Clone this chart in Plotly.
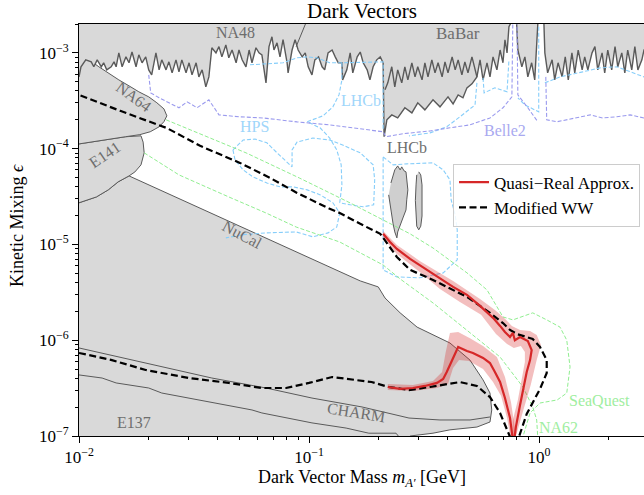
import numpy as np
import plotly.graph_objects as go

# ---------------- data (mass in GeV, kinetic mixing epsilon) ----------------
# top excluded region (NA48 / BaBar / LHCb), boundary read left to right
TOP_A_M = [0.0100,0.0102,0.0107,0.0113,0.0116,0.0120,0.0125,0.0128,0.0132,0.0138,
           0.0142,0.0145,0.0149,0.0154,0.0160,0.0165,0.0170,0.0177,0.0182,0.0188,
           0.0195,0.0201,0.0207,0.0216,0.0223,0.0229,0.0239,0.0246,0.0254,0.0264,
           0.0272,0.0280,0.0292,0.0301,0.0310,0.0323,0.0332,0.0343,0.0356,0.0367,
           0.0378,0.0394,0.0406,0.0418,0.0435,0.0448,0.0463,0.0482,0.0496,0.0512,
           0.0532,0.0549,0.0565,0.0588,0.0606,0.0624,0.0650,0.0670,0.0690,0.0704,0.0726]
TOP_A_E = [5.61e-4,7.15e-4,8.45e-4,8.05e-4,7.15e-4,8.45e-4,7.15e-4,7.87e-4,6.64e-4,7.15e-4,
           8.05e-4,7.15e-4,1.0e-3,7.15e-4,9.08e-4,7.87e-4,1.02e-3,7.15e-4,9.53e-4,7.87e-4,
           9.08e-4,6.64e-4,5.89e-4,1.0e-3,6.64e-4,8.45e-4,6.64e-4,8.05e-4,6.18e-4,8.45e-4,
           6.33e-4,8.45e-4,6.18e-4,7.87e-4,5.89e-4,7.87e-4,5.61e-4,6.64e-4,4.41e-4,5.61e-4,
           1.13e-3,1.0e-3,1.16e-3,9.08e-4,1.21e-3,8.87e-4,1.07e-3,7.87e-4,1.07e-3,8.45e-4,
           7.15e-4,1.07e-3,7.87e-4,1.13e-3,1.0e-3,9.53e-4,4.86e-4,1.16e-3,1.47e-3,1.07e-3,1.27e-3]
TOP_B_M = [0.0748,0.0771,0.0803,0.0811,0.0844,0.0870,0.0897,0.0934,0.0963,0.0992,
           0.103,0.106,0.110,0.114,0.117,0.121,0.126,0.130,0.134,0.139,
           0.140,0.146,0.151,0.155,0.162,0.167,0.172,0.179,0.184,0.190,
           0.197,0.204,0.210,0.212]
TOP_B_E = [9.08e-4,1.37e-3,7.87e-4,6.18e-4,1.07e-3,1.37e-3,1.07e-3,9.08e-4,1.0e-3,7.15e-4,
           5.89e-4,8.45e-4,9.08e-4,7.15e-4,6.64e-4,1.0e-3,1.07e-3,9.08e-4,7.87e-4,7.87e-4,
           5.22e-4,6.64e-4,1.0e-3,6.18e-4,9.08e-4,1.02e-3,7.87e-4,6.64e-4,5.22e-4,7.15e-4,
           8.45e-4,9.08e-4,7.87e-4,1.33e-4]
TOP_C_M = [0.218,0.229,0.243,0.261,0.280,0.297,0.319,0.346,0.371,0.402,0.423,0.445,0.467,0.486,0.511,0.537]
TOP_C_E = [2.0e-4,2.25e-4,2.09e-4,2.67e-4,2.36e-4,3.01e-4,2.54e-4,3.23e-4,2.73e-4,3.47e-4,
           2.93e-4,3.64e-4,3.39e-4,4.31e-4,4.75e-4,5.61e-4]
TOP_D_M = [0.554,0.571,0.594,0.612,0.631,0.656,0.677,0.697,0.711,0.726,
           0.740,0.755,0.762,0.793,0.801,0.809,0.842,0.868,0.894,0.929,
           0.958,0.977,0.987,0.997,1.04,1.05,1.06,1.09,1.14,1.17,
           1.21,1.26,1.30,1.34,1.39,1.43,1.48,1.54,1.58,1.63,
           1.70,1.75,1.80,1.88,1.93,1.99,2.07,2.14,2.20,2.29,
           2.36,2.43,2.53,2.61,2.69,2.80,2.86]
TOP_D_E = [8.45e-4,5.22e-4,7.87e-4,5.61e-4,9.08e-4,6.64e-4,1.07e-3,7.87e-4,1.37e-3,1.0e-3,
           1.87e-3,2.06e-3,3e-3,3e-3,1.87e-3,1.07e-3,7.15e-4,9.08e-4,5.61e-4,7.87e-4,
           5.22e-4,1.37e-3,2.06e-3,3e-3,3e-3,2.06e-3,1.0e-3,6.18e-4,8.45e-4,5.22e-4,
           7.87e-4,5.61e-4,9.08e-4,5.22e-4,1.0e-3,6.18e-4,1.07e-3,6.64e-4,9.08e-4,6.64e-4,
           1.0e-3,1.16e-3,6.64e-4,1.0e-3,6.18e-4,1.07e-3,6.64e-4,1.16e-3,7.15e-4,1.0e-3,
           6.18e-4,1.07e-3,6.64e-4,1.16e-3,6.64e-4,8.45e-4,1.07e-3]
TOP_CLOSE_M = [3.2, 3.2, 0.009, 0.009]
TOP_CLOSE_E = [1.07e-3, 5e-3, 5e-3, 5.61e-4]

# upper edge of the LHCb excluded band (inside the grey region)
LHCB_UP_M = [0.214,0.220,0.229,0.236,0.243,0.253,0.261,0.269,0.280,0.289,0.297,0.310,0.319,0.329,0.342,
             0.353,0.364,0.379,0.390,0.402,0.419,0.432,0.445,0.462,0.476,0.491,0.511,0.527,0.537]
LHCB_UP_E = [4.11e-4,4.86e-4,7.15e-4,4.41e-4,6.64e-4,4.86e-4,7.15e-4,5.22e-4,7.87e-4,5.61e-4,7.15e-4,
             5.22e-4,7.87e-4,5.61e-4,8.45e-4,6.18e-4,7.87e-4,5.61e-4,8.05e-4,6.18e-4,9.08e-4,6.64e-4,
             8.45e-4,5.89e-4,8.05e-4,6.18e-4,9.08e-4,6.64e-4,5.61e-4]
NA48_EDGE_M = [0.0879, 0.0914, 0.0944, 0.0973]
NA48_EDGE_E = [1.16e-3, 1.47e-3, 1.74e-3, 2.1e-3]

# NA64
NA64_M = [0.0100,0.0102,0.0107,0.0114,0.0122,0.0135,0.0149,0.0165,0.0182,0.0201,0.0218,0.0234,
          0.0241,0.0234,0.0223,0.0204,0.0184,0.0159,0.0140,0.0100]
NA64_E = [7.69e-4,8.05e-4,8.65e-4,8.05e-4,7.15e-4,6.03e-4,5.22e-4,4.52e-4,3.92e-4,3.47e-4,3.01e-4,2.60e-4,
          2.20e-4,1.91e-4,1.69e-4,1.50e-4,1.40e-4,1.33e-4,1.27e-4,1.12e-4]
# E141
E141_M = [0.0100,0.0140,0.0159,0.0186,0.0190,0.0192,0.0186,0.0175,0.0165,0.0148,0.0134,0.0119,0.0109,0.0100]
E141_E = [1.12e-4,1.27e-4,1.33e-4,1.36e-4,1.17e-4,9.04e-5,6.77e-5,5.71e-5,5.19e-5,4.50e-5,3.71e-5,3.13e-5,2.92e-5,2.72e-5]
# NuCal / E137 / CHARM combined beam-dump region
DUMP_M = [0.0100,0.0109,0.0119,0.0134,0.0148,0.0165,0.0336,0.0677,0.123,0.167,0.200,0.214,0.249,0.295,
          0.410,0.501,0.571,0.612,0.623,0.612,0.537,0.410,0.346,0.275,0.275,0.009,0.009]
DUMP_E = [2.72e-5,2.92e-5,3.13e-5,3.71e-5,4.50e-5,5.19e-5,2.40e-5,1.11e-5,5.82e-6,4.16e-6,3.60e-6,2.76e-6,
          1.93e-6,1.37e-6,9.35e-7,6.2e-7,3.85e-7,2.81e-7,1.87e-7,1.40e-7,1.24e-7,1.16e-7,1.07e-7,1.0e-7,
          5e-8,5e-8,2.72e-5]
E137_UP_M = [0.0100,0.0195,0.0378,0.0650,0.103,0.170,0.216,0.272,0.371,0.501,0.612]
E137_UP_E = [8.30e-7,5.78e-7,4.03e-7,3.17e-7,2.49e-7,2.01e-7,1.74e-7,1.54e-7,1.47e-7,1.47e-7,1.58e-7]
E137_LO_M = [0.0100,0.0126,0.0145,0.0201,0.0229,0.0332,0.0378,0.0565,0.0624,0.103,0.145,0.182,0.239,0.246]
E137_LO_E = [4.34e-7,4.03e-7,3.58e-7,3.17e-7,2.81e-7,2.38e-7,2.21e-7,1.87e-7,1.74e-7,1.37e-7,1.21e-7,
             1.07e-7,1.07e-7,9.8e-8]
# LHCb displaced islands
BLOB1_M = [0.227,0.232,0.236,0.243,0.249,0.253,0.259,0.264,0.266,0.269,0.266,0.264,0.256,0.249,0.243,
           0.241,0.236,0.232,0.229,0.225,0.222]
BLOB1_E = [4.38e-5,5.32e-5,6.0e-5,6.6e-5,6.0e-5,6.45e-5,5.86e-5,5.72e-5,4.72e-5,3.71e-5,2.92e-5,2.29e-5,
           1.89e-5,1.60e-5,1.35e-5,1.17e-5,1.35e-5,1.64e-5,2.03e-5,2.59e-5,3.29e-5]
BLOB2_M = [0.300,0.306,0.310,0.311,0.310,0.306,0.300,0.294,0.292,0.290,0.292,0.294]
BLOB2_E = [5.72e-5,5.32e-5,4.18e-5,2.87e-5,1.98e-5,1.55e-5,1.42e-5,1.55e-5,1.98e-5,2.87e-5,4.18e-5,5.32e-5]

# projections (dashed)
LHCB1_M = [0.0554,0.0677,0.0771,0.0887,0.0982,0.108,0.123,0.139,0.210,0.210]
LHCB1_E = [7.5e-4,7.69e-4,7.87e-4,8.87e-4,9.08e-4,8.87e-4,7.87e-4,7.87e-4,8.05e-4,1.57e-4]
LHCB2_M = [0.139,0.139,0.135,0.127,0.115,0.0982,0.112,0.123,0.132,0.138,0.139,0.136]
LHCB2_E = [7.87e-4,5.22e-4,3.64e-4,2.73e-4,2.20e-4,1.91e-4,1.64e-4,1.29e-4,9.7e-5,6.77e-5,4.18e-5,2.72e-5]
LHCB3_M = [0.210,0.232,0.266,0.346,0.383,0.410,0.415,0.432,0.441,0.441,0.383,0.303,0.241,0.210,0.210]
LHCB3_E = [8.2e-5,6.77e-5,6.93e-5,7.1e-5,6.0e-5,4.72e-5,2.92e-5,2.03e-5,1.42e-5,6.9e-6,5.04e-6,4.48e-6,
           4.58e-6,5.42e-6,8.2e-5]
LHCB4_M = [0.537,0.527,0.453,0.397,0.336,0.272]
LHCB4_E = [4.86e-4,2.86e-4,2.15e-4,1.69e-4,1.46e-4,1.36e-4]
LHCB5_M = [0.571,0.577,0.643,0.726,0.740]
LHCB5_E = [5.48e-4,3.82e-4,4.31e-4,3.92e-4,8.45e-4]
LHCB6_M = [0.997,0.997,0.868,0.809]
LHCB6_E = [1.87e-3,2.42e-4,2.86e-4,3.39e-4]
LHCB7_M = [1.06,1.234,1.55,1.842,2.18,2.56,2.86,3.2]
LHCB7_E = [4.86e-4,5.61e-4,6.33e-4,6.97e-4,7.15e-4,6.18e-4,5.61e-4,5.5e-4]
HPS_TOP_M = [0.0467,0.0517,0.0582,0.0656,0.0726,0.0844,0.0844,0.0887,0.104,0.123,0.140,0.167,0.190,0.193,
             0.191,0.172,0.151,0.136]
HPS_TOP_E = [9.7e-5,1.23e-4,1.26e-4,1.15e-4,9.04e-5,6.45e-5,9.7e-5,1.17e-4,1.29e-4,1.23e-4,1.09e-4,9.04e-5,
             6.77e-5,4.72e-5,2.59e-5,2.47e-5,2.59e-5,2.72e-5]
HPS_BOT_M = [0.0467,0.0477,0.0517,0.0570,0.0656,0.0748,0.0853,0.0982,0.112,0.127,0.136,0.132,0.121,0.104,
             0.0879,0.0650,0.0512,0.0435]
HPS_BOT_E = [9.7e-5,7.6e-5,6.0e-5,5.07e-5,4.38e-5,3.99e-5,3.99e-5,3.71e-5,3.29e-5,2.72e-5,2.13e-5,1.52e-5,
             1.32e-5,1.20e-5,1.35e-5,1.32e-5,1.26e-5,1.17e-5]
BELLE1_M = [0.0201,0.0205,0.0223,0.0272,0.0295,0.0326,0.0367,0.0406,0.0496,0.0631,0.0887,0.123,0.210,0.216,
            0.256,0.336,0.410,0.501,0.612,0.697,0.762,0.770]
BELLE1_E = [5.89e-4,3.82e-4,3.39e-4,2.67e-4,3.08e-4,2.67e-4,3.23e-4,2.25e-4,2.15e-4,2.09e-4,1.90e-4,1.77e-4,
            1.50e-4,1.33e-4,1.43e-4,1.53e-4,1.65e-4,1.77e-4,2.09e-4,2.67e-4,3.47e-4,2.5e-3]
BELLE2_M = [0.801,0.809,0.894,0.987]
BELLE2_E = [2.5e-3,3.64e-4,2.67e-4,1.91e-4]
BELLE3_M = [1.07,1.08,1.20,1.46,1.67,1.89,2.18,2.49,2.86,3.2]
BELLE3_E = [5.61e-4,2.0e-4,1.91e-4,2.09e-4,2.25e-4,2.09e-4,2.15e-4,2.25e-4,2.09e-4,2.09e-4]
SEAQ_M = [0.0239,0.0378,0.0532,0.0906,0.151,0.210,0.275,0.346,0.486,0.594,0.656,0.697,0.770,0.884,0.939,
          1.08,1.234,1.32,1.364,1.32,1.20,1.01,0.914,0.851]
SEAQ_E = [2.0e-4,1.26e-4,9.04e-5,4.95e-5,2.71e-5,1.80e-5,1.29e-5,9.18e-6,5.05e-6,3.35e-6,2.22e-6,1.75e-6,
          1.63e-6,1.84e-6,1.93e-6,1.63e-6,1.37e-6,1.0e-6,5.26e-7,2.81e-7,2.38e-7,2.21e-7,1.74e-7,9.8e-8]
NA62_M = [0.0192,0.0272,0.0448,0.0650,0.0879,0.136,0.210,0.249,0.346,0.486,0.677,0.851,0.939,0.977,0.987]
NA62_E = [9.04e-5,5.32e-5,3.13e-5,2.13e-5,1.52e-5,1.06e-5,6.1e-6,4.36e-6,2.45e-6,1.28e-6,6.68e-7,3.25e-7,
          2.01e-7,1.47e-7,9.8e-8]

# this work
WW_M = [0.0100,0.0139,0.0195,0.0301,0.0448,0.0624,0.0795,0.100,0.126,0.187,
        0.222,0.272,0.336,0.453,0.537,0.612,0.677,0.719,0.748,0.775,
        0.818,0.884,0.939,1.01,1.08,1.08,1.01,0.939,0.851,0.801,
        0.748,0.697,0.612,0.486,0.346,0.275,0.241,0.218,0.204,0.167,
        0.136,0.123,0.0887,0.0677,0.0501,0.0336,0.0241,0.0151,0.0100]
WW_E = [7.36e-7,6.2e-7,4.89e-7,4.03e-7,3.58e-7,3.17e-7,3.17e-7,3.58e-7,4.13e-7,3.66e-7,
        3.25e-7,3.02e-7,3.25e-7,3.66e-7,3.33e-7,2.55e-7,1.74e-7,1.24e-7,9.8e-8,4.4e-8,
        9.8e-8,1.70e-7,2.26e-7,3.10e-7,4.55e-7,6.2e-7,8.5e-7,1.03e-6,1.11e-6,1.16e-6,
        1.28e-6,1.51e-6,1.93e-6,2.83e-6,4.26e-6,5.42e-6,7.40e-6,1.04e-5,1.29e-5,1.64e-5,
        2.13e-5,2.35e-5,3.45e-5,4.95e-5,7.10e-5,1.07e-4,1.64e-4,2.48e-4,3.64e-4]
QR_M = [0.220,0.249,0.283,0.319,0.360,0.383,0.397,0.419,0.445,0.486,0.516,0.571,0.612,0.643,0.677,0.711,0.748,0.775,
        0.793,0.827,0.860,0.884,0.914,0.929,0.894,0.827,0.785,0.770,0.748,0.711,0.677,0.631,0.554,0.486,0.423,
        0.346,0.303,0.275,0.241,0.225,0.210]
QR_E = [3.25e-7,3.10e-7,3.17e-7,3.33e-7,3.58e-7,3.94e-7,4.66e-7,6.2e-7,8.5e-7,7.72e-7,7.36e-7,6.53e-7,5.78e-7,
        4.66e-7,3.66e-7,2.49e-7,1.54e-7,8e-8,
        1.24e-7,2.11e-7,3.41e-7,4.66e-7,6.2e-7,7.9e-7,9.8e-7,1.08e-6,1.0e-6,1.19e-6,1.08e-6,1.22e-6,1.41e-6,
        1.71e-6,2.28e-6,2.97e-6,3.6e-6,4.92e-6,5.96e-6,7.06e-6,8.97e-6,1.06e-5,1.29e-5]
QR_BAND1_M = [0.210,0.241,0.303,0.423,0.554,0.643,0.711,0.762,0.827,0.914,0.977,1.02,0.977,0.920,0.860,0.809,0.785,
              0.762,0.770,0.809,0.842,0.868,0.868,0.834,0.777,0.726,0.650,0.560,0.453,0.371,0.303,0.241,0.210]
QR_BAND1_E = [1.38e-5,9.89e-6,6.73e-6,4.16e-6,2.70e-6,2.07e-6,1.67e-6,1.41e-6,1.28e-6,1.25e-6,1.13e-6,8.9e-7,
              6.2e-7,3.41e-7,1.96e-7,1.21e-7,9.1e-8,
              9.1e-8,1.47e-7,2.38e-7,3.85e-7,5.93e-7,7.54e-7,8.71e-7,8.30e-7,9.14e-7,1.16e-6,1.84e-6,2.51e-6,
              3.43e-6,5.16e-6,7.96e-6,1.17e-5]
QR_BAND2_M = [0.220,0.283,0.346,0.379,0.393,0.410,0.445,0.501,0.571,0.656,0.711,0.755,0.785,0.793,
              0.755,0.726,0.684,0.631,0.571,0.496,0.449,0.423,0.402,0.360,0.283,0.220]
QR_BAND2_E = [3.49e-7,3.41e-7,3.75e-7,4.66e-7,7.54e-7,1.19e-6,1.22e-6,1.05e-6,8.71e-7,6.68e-7,4.13e-7,2.26e-7,
              1.21e-7,9.1e-8,
              9.1e-8,1.54e-7,2.62e-7,3.66e-7,5.01e-7,6.07e-7,6.2e-7,5.13e-7,3.49e-7,3.17e-7,2.95e-7,3.02e-7]

X_TICKS = [0.01, 0.1, 1]
X_TICKTEXT = ["10<sup>\u22122</sup>", "10<sup>\u22121</sup>", "10<sup>0</sup>"]
Y_TICKS = [1e-7, 1e-6, 1e-5, 1e-4, 1e-3]
Y_TICKTEXT = ["10<sup>\u22127</sup>", "10<sup>\u22126</sup>", "10<sup>\u22125</sup>",
              "10<sup>\u22124</sup>", "10<sup>\u22123</sup>"]

# ---------------- styling ----------------
FILL = "#d9d9d9"
EDGE = "#5a5a5a"
LBLUE = "#87cefa"
PURPLE = "#9a9aee"
GREEN = "#90ee90"
RED = "#d62728"
LGRAY = "#6e6e6e"
FONT = "Liberation Serif, DejaVu Serif, serif"

fig = go.Figure()


def add(m, e, color, width=1.0, dash=None, fill=None, fillcolor=None, name=None, legend=False, rank=None):
    kw = dict(x=m, y=e, mode="lines", line=dict(color=color, width=width),
              showlegend=legend, hoverinfo="skip")
    if dash:
        kw["line"]["dash"] = dash
    if fill:
        kw["fill"] = fill
        kw["fillcolor"] = fillcolor
    if name:
        kw["name"] = name
    if rank is not None:
        kw["legendrank"] = rank
    fig.add_trace(go.Scatter(**kw))


# grey excluded regions
add(DUMP_M, DUMP_E, EDGE, 1.0, fill="toself", fillcolor=FILL)
add(E141_M, E141_E, EDGE, 1.0, fill="toself", fillcolor=FILL)
add(NA64_M, NA64_E, EDGE, 1.0, fill="toself", fillcolor=FILL)
add(TOP_A_M + TOP_B_M + TOP_C_M + TOP_D_M + TOP_CLOSE_M,
    TOP_A_E + TOP_B_E + TOP_C_E + TOP_D_E + TOP_CLOSE_E, EDGE, 1.4, fill="toself", fillcolor=FILL)
add(LHCB_UP_M, LHCB_UP_E, EDGE, 1.4)
add(NA48_EDGE_M, NA48_EDGE_E, EDGE, 1.0)
add(E137_UP_M, E137_UP_E, EDGE, 1.0)
add(E137_LO_M, E137_LO_E, EDGE, 1.0)
add(BLOB1_M, BLOB1_E, EDGE, 1.0, fill="toself", fillcolor="#cfcfcf")
add(BLOB2_M, BLOB2_E, EDGE, 1.0, fill="toself", fillcolor="#cfcfcf")

# projections
DSH = "4px,2px"
for m, e in [(LHCB1_M, LHCB1_E), (LHCB2_M, LHCB2_E), (LHCB3_M, LHCB3_E), (LHCB4_M, LHCB4_E),
             (LHCB5_M, LHCB5_E), (LHCB6_M, LHCB6_E), (LHCB7_M, LHCB7_E),
             (HPS_TOP_M, HPS_TOP_E), (HPS_BOT_M, HPS_BOT_E)]:
    add(m, e, LBLUE, 1.1, dash=DSH)
for m, e in [(BELLE1_M, BELLE1_E), (BELLE2_M, BELLE2_E), (BELLE3_M, BELLE3_E)]:
    add(m, e, PURPLE, 1.1, dash=DSH)
for m, e in [(SEAQ_M, SEAQ_E), (NA62_M, NA62_E)]:
    add(m, e, GREEN, 1.0, dash=DSH)

# this work
add(QR_BAND1_M, QR_BAND1_E, "rgba(0,0,0,0)", 0, fill="toself", fillcolor="rgba(214,39,40,0.3)")
add(QR_BAND2_M, QR_BAND2_E, "rgba(0,0,0,0)", 0, fill="toself", fillcolor="rgba(214,39,40,0.3)")
add(WW_M, WW_E, "black", 2.2, dash="7px,3.5px", name="Modified WW", legend=True, rank=2)
add(QR_M, QR_E, RED, 2.2, name="Quasi\u2212Real Approx.", legend=True, rank=1)


def label(text, m, e, color=LGRAY, angle=0, size=16):
    fig.add_annotation(x=np.log10(m), y=np.log10(e), xref="x", yref="y", text=text, showarrow=False,
                       xanchor="center", yanchor="middle",
                       textangle=angle, font=dict(family=FONT, size=size, color=color))


label("NA48", 0.0481, 1.62e-3)
label("BaBar", 0.445, 1.58e-3, size=17)
label("NA64", 0.0172, 3.47e-4, angle=36)
label("E141", 0.0130, 8.6e-5, angle=-34)
label("NuCal", 0.0512, 1.26e-5, angle=28)
label("E137", 0.0173, 1.37e-7)
label("CHARM", 0.161, 1.78e-7, angle=9)
label("LHCb", 0.168, 3.17e-4, color="#9fd6fa")
label("HPS", 0.058, 1.69e-4, color="#9fd6fa")
label("Belle2", 0.71, 1.53e-4, color="#a9a9f0")
label("LHCb", 0.267, 1.02e-4)
label("SeaQuest", 1.83, 2.32e-7, color="#a0eea0")
label("NA62", 1.21, 1.24e-7, color="#a0eea0")

# axis titles
fig.add_annotation(xref="paper", yref="paper", x=0.501, y=-0.102, showarrow=False,
                   xanchor="center", yanchor="middle",
                   text="Dark Vector Mass <i>m</i><sub><i>A\u2032</i></sub> [GeV]",
                   font=dict(family=FONT, size=18, color="black"))
fig.add_annotation(xref="paper", yref="paper", x=-0.1097, y=0.51, showarrow=False, textangle=-90,
                   xanchor="center", yanchor="middle",
                   text="Kinetic Mixing <i>\u03f5</i>", font=dict(family=FONT, size=18, color="black"))

minor_x = [k * 10.0 ** p for p in (-2, -1, 0) for k in range(2, 10)]
minor_y = [k * 10.0 ** p for p in (-7, -6, -5, -4, -3) for k in range(2, 10)]

fig.update_xaxes(type="log", range=[-2, np.log10(2.86)], tickvals=X_TICKS, ticktext=X_TICKTEXT,
                 ticks="outside", ticklen=6, tickwidth=1, tickcolor="black",
                 showline=True, linecolor="black", linewidth=1, mirror=True,
                 showgrid=False, zeroline=False,
                 minor=dict(tickvals=minor_x, ticks="outside", ticklen=3, tickwidth=0.8, tickcolor="black",
                            showgrid=False),
                 tickfont=dict(family=FONT, size=17, color="black"))
fig.update_yaxes(type="log", range=[-7, np.log10(2.0e-3)], tickvals=Y_TICKS, ticktext=Y_TICKTEXT,
                 ticks="outside", ticklen=6, tickwidth=1, tickcolor="black",
                 showline=True, linecolor="black", linewidth=1, mirror=False,
                 showgrid=False, zeroline=False,
                 minor=dict(tickvals=minor_y, ticks="outside", ticklen=3, tickwidth=0.8, tickcolor="black",
                            showgrid=False),
                 tickfont=dict(family=FONT, size=17, color="black"))

fig.update_layout(
    width=644, height=495,
    margin=dict(l=79, r=0, t=24, b=59),
    paper_bgcolor="white", plot_bgcolor="white",
    font=dict(family=FONT, size=16, color="black"),
    title=dict(text="Dark Vectors", x=362 / 644, xanchor="center", xref="container",
               y=1 - 11 / 495, yanchor="middle", yref="container",
               font=dict(family=FONT, size=21, color="black")),
    showlegend=True,
    legend=dict(x=0.662, y=0.661, xanchor="left", yanchor="top",
                bgcolor="rgba(255,255,255,0.85)", bordercolor="#cccccc", borderwidth=1,
                font=dict(family=FONT, size=17, color="black"), tracegroupgap=0),
)

fig.write_html("out.html")
